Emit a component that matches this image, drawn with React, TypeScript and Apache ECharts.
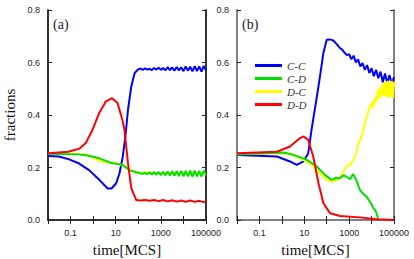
import React, { useEffect, useRef } from "react";
import * as echarts from "echarts";

const seriesNames = ["C-C", "C-D", "D-C", "D-D"];
const seriesColors = ["#0000ff", "#00e000", "#ffff00", "#ff0000"];

const xTickValues = [0.1, 10, 1000, 100000];
const xTickLabels = ["0.1", "10", "1000", "100000"];

// Panel (a)
const aCC: [number, number][] = [
  [0.01, 0.244], [0.03, 0.242], [0.08, 0.232], [0.23, 0.216], [0.66, 0.19], [1.87, 0.153],
  [4.4, 0.12], [6.5, 0.12], [10.5, 0.14], [14.7, 0.178], [20.6, 0.242], [27, 0.32],
  [35, 0.42], [49, 0.509], [69, 0.56], [100, 0.574], [126, 0.577], [158, 0.572],
  [200, 0.578], [251, 0.573], [316, 0.576], [398, 0.571], [501, 0.579], [631, 0.573],
  [794, 0.58], [1000, 0.572], [1259, 0.579], [1585, 0.57], [1995, 0.582], [2512, 0.571],
  [3162, 0.581], [3981, 0.569], [5012, 0.583], [6310, 0.57], [7943, 0.582], [10000, 0.567],
  [12589, 0.585], [15849, 0.569], [19953, 0.584], [25119, 0.566], [31623, 0.586],
  [39811, 0.567], [50119, 0.585], [63096, 0.565], [79433, 0.587], [100000, 0.57],
];
const aCD: [number, number][] = [
  [0.01, 0.252], [0.23, 0.25], [0.66, 0.245], [1.87, 0.235], [6.5, 0.217], [20, 0.21],
  [41, 0.19], [115, 0.178], [158, 0.176], [200, 0.18], [251, 0.174], [316, 0.181],
  [398, 0.173], [501, 0.182], [631, 0.172], [794, 0.183], [1000, 0.171], [1259, 0.184],
  [1585, 0.17], [1995, 0.185], [2512, 0.169], [3162, 0.186], [3981, 0.168], [5012, 0.186],
  [6310, 0.167], [7943, 0.187], [10000, 0.166], [12589, 0.187], [15849, 0.166],
  [19953, 0.188], [25119, 0.165], [31623, 0.188], [39811, 0.166], [50119, 0.187],
  [63096, 0.165], [79433, 0.188], [100000, 0.17],
];
const aDC: [number, number][] = [
  [0.01, 0.255], [0.47, 0.25], [2.5, 0.222], [10.5, 0.216], [25, 0.205], [56, 0.184],
  [150, 0.18], [300, 0.182], [1000, 0.178], [3000, 0.18], [10000, 0.178], [30000, 0.176],
  [100000, 0.178],
];
const aDD: [number, number][] = [
  [0.01, 0.254], [0.08, 0.26], [0.25, 0.272], [0.47, 0.293], [0.93, 0.343], [1.87, 0.408],
  [3.7, 0.452], [6.9, 0.464], [12, 0.446], [20, 0.38], [24.5, 0.343], [35, 0.216],
  [49, 0.121], [81, 0.076], [120, 0.074], [200, 0.076], [316, 0.073], [501, 0.076],
  [794, 0.072], [1259, 0.076], [1995, 0.071], [3162, 0.075], [5012, 0.07], [7943, 0.074],
  [12589, 0.069], [19953, 0.074], [31623, 0.069], [50119, 0.073], [79433, 0.068],
  [100000, 0.071],
];

// Panel (b)
const bCC: [number, number][] = [
  [0.01, 0.248], [0.6, 0.242], [2.3, 0.223], [4.6, 0.21], [9.2, 0.223], [15, 0.254],
  [21, 0.343], [43, 0.509], [71, 0.636], [100, 0.687], [140, 0.688], [195, 0.684],
  [280, 0.67], [390, 0.655], [501, 0.648], [631, 0.637], [794, 0.628], [1000, 0.632],
  [1259, 0.612], [1585, 0.626], [1995, 0.6], [2512, 0.612], [3162, 0.585], [3981, 0.598],
  [5012, 0.572], [6310, 0.59], [7943, 0.56], [10000, 0.578], [12589, 0.548], [15849, 0.572],
  [19953, 0.54], [25119, 0.565], [31623, 0.525], [39811, 0.558], [50119, 0.52],
  [63096, 0.552], [79433, 0.518], [100000, 0.545],
];
const bCD: [number, number][] = [
  [0.01, 0.25], [1.2, 0.257], [3.3, 0.248], [13, 0.229], [36, 0.204], [83, 0.172],
  [165, 0.153], [250, 0.16], [390, 0.159], [550, 0.17], [775, 0.165], [1100, 0.155],
  [1500, 0.175], [2150, 0.15], [3000, 0.115], [4200, 0.1], [6000, 0.089], [8300, 0.07],
  [10000, 0.06], [11800, 0.045], [14000, 0.04], [16600, 0.026], [19500, 0.006],
];
const bDC: [number, number][] = [
  [0.01, 0.25], [2.3, 0.254], [6.5, 0.235], [18, 0.216], [50, 0.178], [100, 0.153],
  [195, 0.146], [390, 0.159], [550, 0.185], [775, 0.204], [1100, 0.21], [1500, 0.229],
  [2000, 0.25], [2500, 0.286], [3300, 0.31], [4250, 0.343], [5000, 0.369], [6500, 0.4],
  [8300, 0.432], [10000, 0.445], [11220, 0.425], [12589, 0.46], [14125, 0.44],
  [15849, 0.475], [17783, 0.455], [19953, 0.5], [22387, 0.465], [25119, 0.505],
  [28184, 0.47], [31623, 0.52], [35481, 0.475], [39811, 0.525], [44668, 0.47],
  [50119, 0.53], [56234, 0.465], [63096, 0.53], [70795, 0.47], [79433, 0.53],
  [89125, 0.465], [100000, 0.525],
];
const bDD: [number, number][] = [
  [0.01, 0.254], [0.6, 0.26], [2.3, 0.28], [6.5, 0.312], [9.2, 0.318], [15, 0.305],
  [25, 0.242], [43, 0.14], [71, 0.064], [140, 0.026], [390, 0.015], [3000, 0.01],
  [16600, 0.003], [100000, 0.0],
];

const panelA = { CC: aCC, CD: aCD, DC: aDC, DD: aDD };
const panelB = { CC: bCC, CD: bCD, DC: bDC, DD: bDD };

export default function App() {
  const ref = useRef<HTMLDivElement>(null);
  useEffect(() => {
    if (!ref.current) return;
    const chart = echarts.init(ref.current, undefined, { renderer: "svg" });
    const labelFmt = (v: number) => {
      for (let i = 0; i < xTickValues.length; i++) {
        if (Math.abs(Math.log10(v) - Math.log10(xTickValues[i])) < 0.01) return xTickLabels[i];
      }
      return "";
    };
    const tickFont = { fontFamily: "Liberation Sans", fontSize: 9, color: "#222" };
    const nameFont = { fontFamily: "Liberation Serif", fontSize: 15, color: "#111" };
    const borderColors = ["#333", "#808080"];
    const xAxes: any[] = [];
    const yAxes: any[] = [];
    [0, 1].forEach((g) => {
      const line = { show: true, lineStyle: { color: borderColors[g], width: 2 } };
      const tick = { show: true, inside: true, length: 4, lineStyle: { color: "#222", width: 1 } };
      xAxes.push({
        type: "log", logBase: 10, gridIndex: g, min: 0.01, max: 100000, splitNumber: 7,
        position: "bottom", axisLine: line, axisTick: tick, splitLine: { show: false },
        axisLabel: { ...tickFont, margin: 8, formatter: labelFmt, showMaxLabel: true },
        name: "time[MCS]", nameLocation: "middle", nameGap: 22, nameTextStyle: nameFont,
      });
      xAxes.push({
        type: "log", logBase: 10, gridIndex: g, min: 0.01, max: 100000, splitNumber: 7,
        position: "top", axisLine: line, axisTick: tick, splitLine: { show: false },
        axisLabel: { show: false },
      });
      yAxes.push({
        type: "value", gridIndex: g, min: 0, max: 0.8, interval: 0.2, position: "left",
        axisLine: line, axisTick: tick, splitLine: { show: false },
        axisLabel: { ...tickFont, margin: 8, formatter: (v: number) => v.toFixed(1) },
        ...(g === 0
          ? { name: "fractions", nameLocation: "middle", nameGap: 31, nameTextStyle: nameFont }
          : {}),
      });
      yAxes.push({
        type: "value", gridIndex: g, min: 0, max: 0.8, interval: 0.2, position: "right",
        axisLine: line, axisTick: tick, splitLine: { show: false }, axisLabel: { show: false },
      });
    });
    const order = [0, 2, 1, 3];
    const keys = ["CC", "CD", "DC", "DD"];
    const series: any[] = [];
    [panelA, panelB].forEach((p: any, g) => {
      order.forEach((k) => {
        series.push({
          type: "line", name: seriesNames[k], xAxisIndex: g * 2, yAxisIndex: g * 2,
          data: p[keys[k]], showSymbol: false, symbol: "none",
          lineStyle: { color: seriesColors[k], width: 2 }, itemStyle: { color: seriesColors[k] },
        });
      });
    });
    chart.setOption({
      animation: false,
      grid: [
        { left: 48, top: 10, width: 158, height: 210, outerBoundsMode: "none", containLabel: false },
        { left: 237, top: 10, width: 157, height: 210, outerBoundsMode: "none", containLabel: false },
      ],
      xAxis: xAxes,
      yAxis: yAxes,
      legend: {
        data: seriesNames, orient: "vertical", left: 250, top: 55, icon: "rect",
        itemWidth: 27, itemHeight: 3, itemGap: 2,
        textStyle: { fontFamily: "Liberation Serif", fontStyle: "italic", fontSize: 11, color: "#333" },
      },
      graphic: [
        { type: "text", left: 53, top: 17, style: { text: "(a)", font: "14px 'Liberation Serif'", fill: "#222" } },
        { type: "text", left: 242, top: 17, style: { text: "(b)", font: "14px 'Liberation Serif'", fill: "#222" } },
      ],
      series,
    });
    return () => chart.dispose();
  }, []);
  return <div ref={ref} style={{ width: 414, height: 259, position: "absolute", left: 0, top: 0 }} />;
}
